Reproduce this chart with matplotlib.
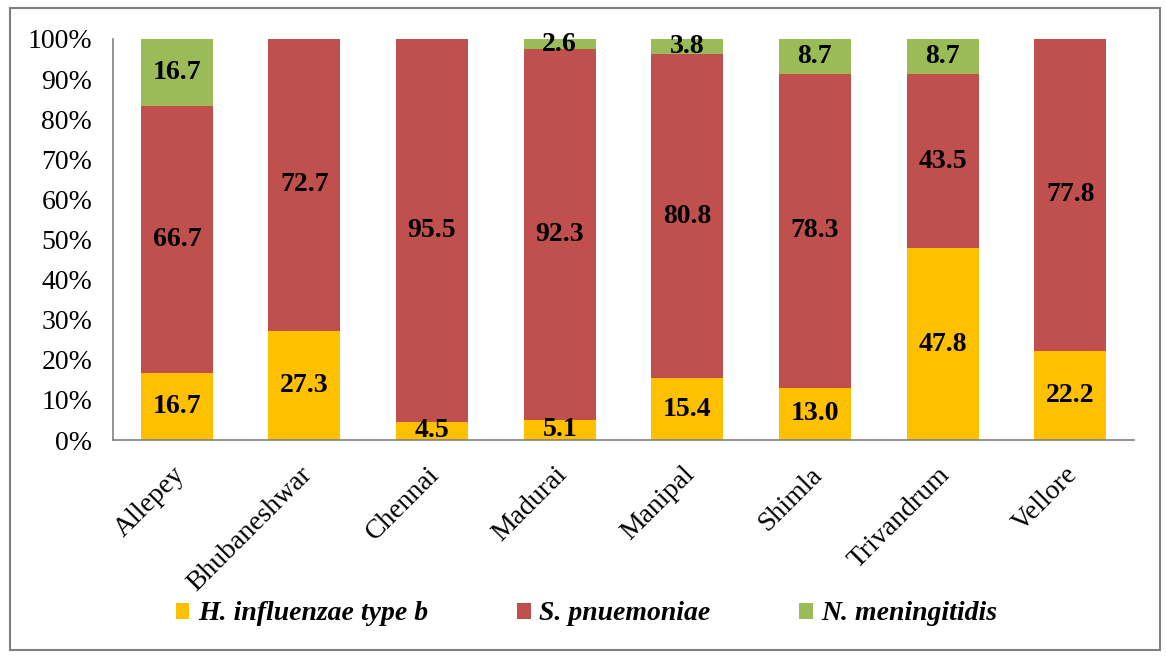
import matplotlib
matplotlib.use("Agg")
import matplotlib.pyplot as plt
from matplotlib.patches import Rectangle
from matplotlib.transforms import ScaledTranslation
import numpy as np

cities = ["Allepey", "Bhubaneshwar", "Chennai", "Madurai", "Manipal", "Shimla", "Trivandrum", "Vellore"]
hib = [16.7, 27.3, 4.5, 5.1, 15.4, 13.0, 47.8, 22.2]
spn = [66.7, 72.7, 95.5, 92.3, 80.8, 78.3, 43.5, 77.8]
nm = [16.7, 0.0, 0.0, 2.6, 3.8, 8.7, 8.7, 0.0]
series_names = ["H. influenzae type b", "S. pnuemoniae", "N. meningitidis"]
colors = ["#FFC000", "#C0504D", "#9BBB59"]
yticks = [0, 10, 20, 30, 40, 50, 60, 70, 80, 90, 100]

plt.rcParams['font.family'] = ['Liberation Serif', 'DejaVu Serif']

fig = plt.figure(figsize=(11.66, 6.62), dpi=100)
fig.patches.append(Rectangle((10/1166, 1 - 650/662), 1150/1166, 642/662,
                             transform=fig.transFigure, fill=False,
                             edgecolor="#7f7f7f", linewidth=1.5))
ax = fig.add_axes([113/1166, 1 - 440/662, 1021/1166, 401/662])

x = np.arange(len(cities))
width = 0.565
bottom = np.zeros(len(cities))
handles = []
for vals, name, col in zip([hib, spn, nm], series_names, colors):
    vals = np.array(vals)
    b = ax.bar(x, vals, width, bottom=bottom, color=col, label=name, zorder=2)
    handles.append(b)
    for xi, v, bt in zip(x, vals, bottom):
        if v > 0:
            ax.text(xi, bt + v / 2, f"{v:.1f}", ha="center", va="center",
                    fontsize=20, fontweight="bold", color="black", zorder=3)
    bottom = bottom + vals

ax.set_xlim(-0.5, len(cities) - 0.5)
ax.set_ylim(0, 100)
ax.set_yticks(yticks)
ax.set_yticklabels([f"{t}%" for t in yticks], fontsize=20)
ax.tick_params(axis="y", length=0, pad=15)
ax.set_xticks(x)
ax.set_xticklabels(cities, rotation=45, ha="right", rotation_mode="anchor", fontsize=20)
ax.tick_params(axis="x", length=0, pad=16)
offset = ScaledTranslation(-5/100, 0, fig.dpi_scale_trans)
for lbl in ax.get_xticklabels():
    lbl.set_transform(lbl.get_transform() + offset)
for s in ["top", "right"]:
    ax.spines[s].set_visible(False)
for s in ["left", "bottom"]:
    ax.spines[s].set_color("#808080")
    ax.spines[s].set_linewidth(1.2)

leg = fig.legend(handles=handles, labels=series_names, loc="center",
                 bbox_to_anchor=(0.503, 1 - 614/662), ncol=3, frameon=False,
                 prop={"family": "Liberation Serif", "style": "italic",
                       "weight": "bold", "size": 20},
                 handlelength=0.5, handleheight=0.5, handletextpad=0.3,
                 columnspacing=3.2)

fig.savefig("out.png", dpi=100)
